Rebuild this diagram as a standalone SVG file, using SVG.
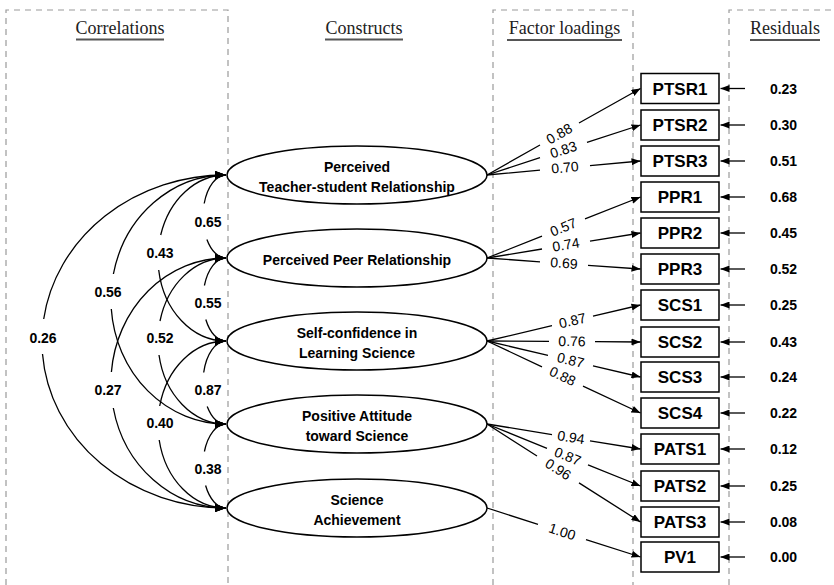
<svg xmlns="http://www.w3.org/2000/svg" width="834" height="585" viewBox="0 0 834 585">
<style>
  .frame{fill:none;stroke:#9a9a9a;stroke-width:1.2;stroke-dasharray:6 5}
  .hdr{font-family:"Liberation Serif",serif;font-size:18px;fill:#222;text-anchor:middle}
  .ul{stroke:#555;stroke-width:2}
  .ell{fill:#fff;stroke:#000;stroke-width:1.5}
  .etxt{font-family:"Liberation Sans",Arial,sans-serif;font-size:14px;font-weight:bold;text-anchor:middle;fill:#000}
  .box{fill:#fff;stroke:#000;stroke-width:1.5}
  .btxt{font-family:"Liberation Sans",Arial,sans-serif;font-size:17px;font-weight:bold;text-anchor:middle;fill:#000}
  .con{fill:none;stroke:#000;stroke-width:1.3}
  .load{marker-end:url(#ah)}
  .cor{marker-start:url(#ahc);marker-end:url(#ahc)}
  .ltxt{font-family:"Liberation Sans",Arial,sans-serif;font-size:14px;text-anchor:middle;fill:#000}
  .ctxt{font-family:"Liberation Sans",Arial,sans-serif;font-size:14px;font-weight:bold;text-anchor:middle;fill:#000}
  .rtxt{font-family:"Liberation Sans",Arial,sans-serif;font-size:14px;font-weight:bold;text-anchor:middle;fill:#000}
</style>
<defs>
  <marker id="ah" viewBox="0 0 9 7" refX="9" refY="3.5" markerWidth="9" markerHeight="7" markerUnits="userSpaceOnUse" orient="auto-start-reverse">
    <path d="M0,0 L9,3.5 L0,7 z" fill="#000"/>
  </marker>
  <marker id="ahc" viewBox="0 0 11 8" refX="11" refY="4" markerWidth="11" markerHeight="8" markerUnits="userSpaceOnUse" orient="auto-start-reverse">
    <path d="M0,0 L11,4 L0,8 z" fill="#000"/>
  </marker>
</defs>
<rect width="834" height="585" fill="#fff"/>

<g id="frames">
  <path class="frame" d="M6,585 V10 H228 V585"/>
  <path class="frame" d="M493,585 V10 H633 V585"/>
  <path class="frame" d="M729,585 V10 H834"/>
</g>

<g id="headers">
  <text class="hdr" x="120" y="34">Correlations</text>
  <line class="ul" x1="76" y1="39.5" x2="164" y2="39.5"/>
  <text class="hdr" x="364" y="34">Constructs</text>
  <line class="ul" x1="325" y1="39.5" x2="403" y2="39.5"/>
  <text class="hdr" x="564.5" y="34">Factor loadings</text>
  <line class="ul" x1="507" y1="40" x2="622" y2="40"/>
  <text class="hdr" x="785" y="34">Residuals</text>
  <line class="ul" x1="750" y1="40" x2="820" y2="40"/>
</g>

<g id="connectors">
  <!-- correlations -->
  <path class="con cor" d="M226,175 A23,41.5 0 0 0 204.2,203.5 M206.9,239.5 A23,41.5 0 0 0 226,258"/>
  <path class="con cor" d="M226,258 A23,41.5 0 0 0 204.4,285.5 M205.8,319.5 A23,41.5 0 0 0 226,341"/>
  <path class="con cor" d="M226,341 A23,41.5 0 0 0 203.7,372.5 M207.2,406.5 A23,41.5 0 0 0 226,424"/>
  <path class="con cor" d="M226,424 A23,42 0 0 0 204.4,451.5 M205.6,485.5 A23,42 0 0 0 226,508"/>
  <path class="con cor" d="M226,175 A68,83 0 0 0 160.7,235 M158.7,270 A68,83 0 0 0 226,341"/>
  <path class="con cor" d="M226,258 A68,83 0 0 0 160,321 M159,355 A68,83 0 0 0 226,424"/>
  <path class="con cor" d="M226,341 A68,83.5 0 0 0 159.7,406 M159.2,440 A68,83.5 0 0 0 226,508"/>
  <path class="con cor" d="M226,175 A115,124.5 0 0 0 113.4,274 M111.3,309 A115,124.5 0 0 0 226,424"/>
  <path class="con cor" d="M226,258 A115,125 0 0 0 111.4,372 M113.3,408 A115,125 0 0 0 226,508"/>
  <path class="con cor" d="M226,175 A184,166.5 0 0 0 43.7,319 M42.5,354 A184,166.5 0 0 0 226,508"/>
  <!-- factor loadings -->
  <path class="con load" d="M487,175 L540,145 M579,123 L640.5,88.5"/>
  <path class="con load" d="M487,175 L540,157.7 M587,142.3 L640.5,125"/>
  <path class="con load" d="M487,175 L540,170.2 M590,165.6 L640.5,161"/>
  <path class="con load" d="M487,258 L542,236.1 M585,218.9 L640.5,197"/>
  <path class="con load" d="M487,258 L542,249 M590,241.2 L640.5,233"/>
  <path class="con load" d="M487,258 L540,261.8 M588,265.3 L640.5,269"/>
  <path class="con load" d="M487,341 L552,325.7 M593,316.1 L640.5,305"/>
  <path class="con load" d="M487,341 L549,341.4 M595,341.7 L640.5,342"/>
  <path class="con load" d="M487,341 L548,355.4 M593,365.9 L640.5,377"/>
  <path class="con load" d="M487,341 L542,366.9 M583,386.2 L640.5,413"/>
  <path class="con load" d="M487,424 L552,434.6 M590,440.8 L640.5,449"/>
  <path class="con load" d="M487,424 L547,448.3 M588,464.9 L640.5,486"/>
  <path class="con load" d="M487,424 L537,456 M579,482.9 L640.5,522"/>
  <path class="con load" d="M487,508 L538,524.3 M586,539.7 L640.5,557"/>
  <!-- residual arrows -->
  <path class="con load" d="M745,88.5 H720.5"/>
  <path class="con load" d="M745,125 H720.5"/>
  <path class="con load" d="M745,161 H720.5"/>
  <path class="con load" d="M745,197 H720.5"/>
  <path class="con load" d="M745,233 H720.5"/>
  <path class="con load" d="M745,269 H720.5"/>
  <path class="con load" d="M745,305 H720.5"/>
  <path class="con load" d="M745,342 H720.5"/>
  <path class="con load" d="M745,377 H720.5"/>
  <path class="con load" d="M745,413 H720.5"/>
  <path class="con load" d="M745,449 H720.5"/>
  <path class="con load" d="M745,486 H720.5"/>
  <path class="con load" d="M745,522 H720.5"/>
  <path class="con load" d="M745,557 H720.5"/>
</g>

<g id="correlation-labels">
  <text class="ctxt" x="208" y="226.5">0.65</text>
  <text class="ctxt" x="208" y="307.5">0.55</text>
  <text class="ctxt" x="208" y="394.5">0.87</text>
  <text class="ctxt" x="208" y="473.5">0.38</text>
  <text class="ctxt" x="160" y="258">0.43</text>
  <text class="ctxt" x="160" y="343">0.52</text>
  <text class="ctxt" x="160" y="428">0.40</text>
  <text class="ctxt" x="108" y="297">0.56</text>
  <text class="ctxt" x="108" y="395">0.27</text>
  <text class="ctxt" x="43" y="343">0.26</text>
</g>

<g id="loading-labels">
  <text class="ltxt" transform="translate(559.5,134) rotate(-29.5)" y="4.5">0.88</text>
  <text class="ltxt" transform="translate(563.5,150) rotate(-18.1)" y="4.5">0.83</text>
  <text class="ltxt" transform="translate(565,167.9) rotate(-5.2)" y="4.5">0.70</text>
  <text class="ltxt" transform="translate(563.5,227.5) rotate(-21.7)" y="4.5">0.57</text>
  <text class="ltxt" transform="translate(566,245.1) rotate(-9.3)" y="4.5">0.74</text>
  <text class="ltxt" transform="translate(564,263.5) rotate(4.1)" y="4.5">0.69</text>
  <text class="ltxt" transform="translate(572.5,320.9) rotate(-13.2)" y="4.5">0.87</text>
  <text class="ltxt" transform="translate(572,341.6) rotate(0.4)" y="4.5">0.76</text>
  <text class="ltxt" transform="translate(570.5,360.6) rotate(13.2)" y="4.5">0.87</text>
  <text class="ltxt" transform="translate(562.5,376.5) rotate(25.2)" y="4.5">0.88</text>
  <text class="ltxt" transform="translate(571,437.7) rotate(9.3)" y="4.5">0.94</text>
  <text class="ltxt" transform="translate(567.5,456.6) rotate(22.1)" y="4.5">0.87</text>
  <text class="ltxt" transform="translate(558,469.5) rotate(32.6)" y="4.5">0.96</text>
  <text class="ltxt" transform="translate(562,532) rotate(17.8)" y="4.5">1.00</text>
</g>

<g id="residual-labels">
  <text class="rtxt" x="783.5" y="93.5">0.23</text>
  <text class="rtxt" x="783.5" y="130">0.30</text>
  <text class="rtxt" x="783.5" y="166">0.51</text>
  <text class="rtxt" x="783.5" y="202">0.68</text>
  <text class="rtxt" x="783.5" y="238">0.45</text>
  <text class="rtxt" x="783.5" y="274">0.52</text>
  <text class="rtxt" x="783.5" y="310">0.25</text>
  <text class="rtxt" x="783.5" y="347">0.43</text>
  <text class="rtxt" x="783.5" y="382">0.24</text>
  <text class="rtxt" x="783.5" y="418">0.22</text>
  <text class="rtxt" x="783.5" y="454">0.12</text>
  <text class="rtxt" x="783.5" y="491">0.25</text>
  <text class="rtxt" x="783.5" y="527">0.08</text>
  <text class="rtxt" x="783.5" y="562">0.00</text>
</g>

<g id="construct-ptsr">
  <ellipse class="ell" cx="357" cy="175" rx="130" ry="29"/>
  <text class="etxt" x="357" y="171.5">Perceived</text>
  <text class="etxt" x="357" y="191.5">Teacher-student Relationship</text>
</g>
<g id="construct-ppr">
  <ellipse class="ell" cx="357" cy="258" rx="130" ry="29"/>
  <text class="etxt" x="357" y="265">Perceived Peer Relationship</text>
</g>
<g id="construct-scs">
  <ellipse class="ell" cx="357" cy="341" rx="130" ry="29"/>
  <text class="etxt" x="357" y="337.5">Self-confidence in</text>
  <text class="etxt" x="357" y="357.5">Learning Science</text>
</g>
<g id="construct-pats">
  <ellipse class="ell" cx="357" cy="424" rx="130" ry="29"/>
  <text class="etxt" x="357" y="421">Positive Attitude</text>
  <text class="etxt" x="357" y="441">toward Science</text>
</g>
<g id="construct-sa">
  <ellipse class="ell" cx="357" cy="508" rx="130" ry="29"/>
  <text class="etxt" x="357" y="505">Science</text>
  <text class="etxt" x="357" y="525">Achievement</text>
</g>

<g id="item-ptsr1"><rect class="box" x="641" y="73.5" width="78" height="30"/><text class="btxt" x="680" y="94.5">PTSR1</text></g>
<g id="item-ptsr2"><rect class="box" x="641" y="110" width="78" height="30"/><text class="btxt" x="680" y="131">PTSR2</text></g>
<g id="item-ptsr3"><rect class="box" x="641" y="146" width="78" height="30"/><text class="btxt" x="680" y="167">PTSR3</text></g>
<g id="item-ppr1"><rect class="box" x="641" y="182" width="78" height="30"/><text class="btxt" x="680" y="203">PPR1</text></g>
<g id="item-ppr2"><rect class="box" x="641" y="218" width="78" height="30"/><text class="btxt" x="680" y="239">PPR2</text></g>
<g id="item-ppr3"><rect class="box" x="641" y="254" width="78" height="30"/><text class="btxt" x="680" y="275">PPR3</text></g>
<g id="item-scs1"><rect class="box" x="641" y="290" width="78" height="30"/><text class="btxt" x="680" y="311">SCS1</text></g>
<g id="item-scs2"><rect class="box" x="641" y="327" width="78" height="30"/><text class="btxt" x="680" y="348">SCS2</text></g>
<g id="item-scs3"><rect class="box" x="641" y="362" width="78" height="30"/><text class="btxt" x="680" y="383">SCS3</text></g>
<g id="item-scs4"><rect class="box" x="641" y="398" width="78" height="30"/><text class="btxt" x="680" y="419">SCS4</text></g>
<g id="item-pats1"><rect class="box" x="641" y="434" width="78" height="30"/><text class="btxt" x="680" y="455">PATS1</text></g>
<g id="item-pats2"><rect class="box" x="641" y="471" width="78" height="30"/><text class="btxt" x="680" y="492">PATS2</text></g>
<g id="item-pats3"><rect class="box" x="641" y="507" width="78" height="30"/><text class="btxt" x="680" y="528">PATS3</text></g>
<g id="item-pv1"><rect class="box" x="641" y="542" width="78" height="30"/><text class="btxt" x="680" y="563">PV1</text></g>
</svg>
